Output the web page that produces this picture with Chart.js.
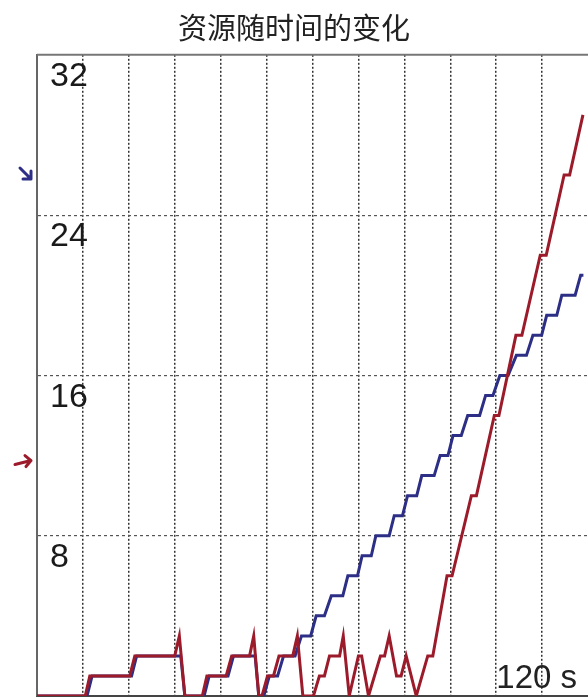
<!DOCTYPE html>
<html lang="zh-CN">
<head>
  <meta charset="UTF-8">
  <title>资源随时间的变化</title>
  <script src="https://cdn.jsdelivr.net/npm/chart.js"></script>
  <style>
    html, body {
      margin: 0;
      padding: 0;
      background: #fff;
      overflow: hidden;
    }
    .chart-box {
      width: 588px;
      height: 698px;
    }
  </style>
</head>
<body>

<div class="chart-box">
  <canvas id="resourceChart"></canvas>
</div>

<script>
  // Time (s) and resource level of each series
  const redTime = [0, 10.5, 11.5, 20.2, 21.3, 30, 31, 32.2, 36, 37, 41.2, 42.4, 46.3, 47.2, 48.3, 49, 50.2, 51.5, 52.7,
    55.7, 56.7, 57.9, 60.2, 61.5, 62.6, 63.7, 65.9, 66.7, 68, 70, 70.7, 72.2, 74.8, 75.7, 76.7, 78.3, 79.3, 80.4,
    82.6, 85.1, 86.2, 89.3, 90.4, 94.6, 95.7, 99.6, 100.6, 104.3, 105.6, 109.6, 110.9, 114.8, 116, 118.9];
  const redLevel = [0, 0, 1, 1, 2, 2, 3, 0, 0, 1, 1, 2, 2, 3, 0, 0, 1, 1, 2,
    2, 3, 0, 0, 1, 1, 2, 2, 3, 0, 2, 2, 0, 2, 2, 3, 1, 1, 2,
    0, 2, 2, 6, 6, 10, 10, 14, 14, 18, 18, 22, 22, 26, 26, 29];

  const blueTime = [0, 10.9, 12, 20.6, 21.7, 31.3, 32.2, 36.4, 37.5, 41.6, 42.8, 47.5, 48.3, 49.4, 50.6, 52.4, 53.7,
    56.2, 57.6, 59.6, 60.8, 62.6, 64.1, 66.6, 67.7, 69.8, 70.8, 72.8, 73.8, 76.7, 77.8, 79.6, 80.7, 82.7, 83.8,
    86.5, 87.8, 89.5, 90.6, 92.4, 93.8, 96.4, 97.7, 99.3, 100.8, 102.6, 104.4, 106.6, 108, 109.9, 111, 113.2,
    114.3, 117.2, 118.4, 119];
  const blueLevel = [0, 0, 1, 1, 2, 2, 0, 0, 1, 1, 2, 2, 0, 0, 1, 1, 2,
    2, 3, 3, 4, 4, 5, 5, 6, 6, 7, 7, 8, 8, 9, 9, 10, 10, 11,
    11, 12, 12, 13, 13, 14, 14, 15, 15, 16, 16, 17, 17, 18, 18, 19, 19,
    20, 20, 21, 21];

  const timeMax = 120;
  const timeStep = 10;
  const levelMax = 32;
  const levelStep = 8;
  const endLabel = '120 s';
  // levels marked by the small arrows left of the plot: blue, red
  const arrowLevels = [26, 11.7];

  const RED = '#9c1b2b';
  const BLUE = '#2d2e85';

  const toPoints = (ts, vs) => ts.map((t, i) => ({ x: t, y: vs[i] }));

  // frame top line, "120 s" label and the two side arrows
  const extras = {
    id: 'extras',
    afterDraw(chart) {
      const { ctx, chartArea, scales } = chart;
      ctx.save();

      ctx.strokeStyle = '#777';
      ctx.lineWidth = 2;
      ctx.beginPath();
      ctx.moveTo(chartArea.left, chartArea.top);
      ctx.lineTo(chartArea.right, chartArea.top);
      ctx.stroke();

      ctx.fillStyle = '#222';
      ctx.font = '33px "Liberation Sans", Arial, sans-serif';
      ctx.textAlign = 'right';
      ctx.textBaseline = 'alphabetic';
      ctx.fillText(endLabel, scales.x.getPixelForValue(timeMax) - 11, chartArea.bottom - 8);

      ctx.lineWidth = 3;
      ctx.lineCap = 'round';
      ctx.lineJoin = 'round';

      // blue arrow, pointing down-right
      let y = scales.y.getPixelForValue(arrowLevels[0]);
      ctx.strokeStyle = BLUE;
      ctx.beginPath();
      ctx.moveTo(20, y - 7);
      ctx.lineTo(31, y + 4);
      ctx.moveTo(23, y + 4);
      ctx.lineTo(31, y + 4);
      ctx.lineTo(31, y - 4);
      ctx.stroke();

      // red arrow, pointing right
      y = scales.y.getPixelForValue(arrowLevels[1]);
      ctx.strokeStyle = RED;
      ctx.beginPath();
      ctx.moveTo(15, y + 3);
      ctx.lineTo(31, y - 1);
      ctx.moveTo(25, y - 6);
      ctx.lineTo(31, y - 1);
      ctx.lineTo(26, y + 5);
      ctx.stroke();

      ctx.restore();
    }
  };

  // keep the axes from reserving room for their labels
  const noPadding = s => {
    s.paddingTop = 0;
    s.paddingBottom = 0;
    s.paddingLeft = 0;
    s.paddingRight = 0;
  };

  document.addEventListener('DOMContentLoaded', function() {
    const ctx = document.getElementById('resourceChart').getContext('2d');
    new Chart(ctx, {
      type: 'line',
      data: {
        datasets: [
          {
            label: 'red',
            data: toPoints(redTime, redLevel),
            borderColor: RED,
            borderWidth: 3,
            pointRadius: 0,
            tension: 0
          },
          {
            label: 'blue',
            data: toPoints(blueTime, blueLevel),
            borderColor: BLUE,
            borderWidth: 3,
            pointRadius: 0,
            tension: 0
          }
        ]
      },
      options: {
        responsive: true,
        maintainAspectRatio: false,
        animation: false,
        layout: { padding: { left: 0, right: 0, top: 0, bottom: 2 } },
        plugins: {
          legend: { display: false },
          tooltip: { enabled: false },
          title: {
            display: true,
            text: '资源随时间的变化',
            color: '#222',
            font: { family: '"Noto Sans CJK SC", sans-serif', size: 29, weight: 'normal' },
            padding: { top: 11, bottom: 9 }
          }
        },
        scales: {
          x: {
            type: 'linear',
            min: 0,
            max: timeMax,
            ticks: { display: false, stepSize: timeStep },
            grid: {
              drawTicks: false,
              lineWidth: 1.5,
              color: c => (c.tick.value === 0 || c.tick.value === timeMax) ? 'transparent' : '#333'
            },
            border: { display: true, color: '#444', width: 2, dash: [2, 2] },
            afterFit: s => { s.height = 0; noPadding(s); }
          },
          y: {
            min: 0,
            max: levelMax,
            ticks: {
              stepSize: levelStep,
              mirror: true,
              padding: 13,
              labelOffset: 22,
              color: '#1a1a1a',
              font: { family: '"Liberation Sans", Arial, sans-serif', size: 34 },
              callback: v => v === 0 ? null : String(v)
            },
            grid: {
              drawTicks: false,
              lineWidth: 1.2,
              color: c => c.tick.value === levelMax ? 'transparent' : '#555'
            },
            border: { display: true, color: '#666', width: 2, dash: [3, 3] },
            afterFit: s => { s.width = 37; noPadding(s); }
          }
        }
      },
      plugins: [extras]
    });
  });
</script>

</body>
</html>
